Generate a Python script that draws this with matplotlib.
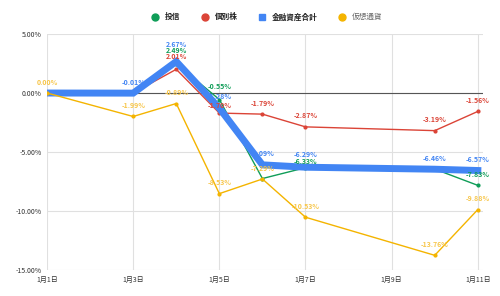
import numpy as np
import matplotlib.pyplot as plt
from matplotlib.lines import Line2D

plt.rcParams['font.family'] = ['Noto Sans CJK JP', 'DejaVu Sans']

days = [1, 3, 4, 5, 6, 7, 10, 11]
tick_days = [1, 3, 5, 7, 9, 11]
tick_labels = ["1月1日", "1月3日", "1月5日", "1月7日", "1月9日", "1月11日"]

names = ["投信", "個別株", "金融資産合計", "仮想通貨"]
toushin = [0.00, 0.00, 2.49, -0.55, -7.25, -6.33, -6.45, -7.83]
kobetsu = [0.00, 0.00, 2.01, -1.70, -1.79, -2.87, -3.19, -1.56]
total = [0.00, -0.01, 2.67, -1.28, -6.09, -6.29, -6.46, -6.57]
crypto = [0.00, -1.99, -0.89, -8.53, -7.29, -10.53, -13.76, -9.88]

# which point labels are visible (the rest are hidden by overlap in the original)
show_toushin = [0, 0, 1, 1, 0, 1, 0, 1]
show_kobetsu = [0, 0, 1, 1, 1, 1, 1, 1]
show_total = [0, 1, 1, 1, 1, 1, 1, 1]
show_crypto = [1, 1, 1, 1, 1, 1, 1, 1]

colors = ["#0f9d58", "#db4437", "#4285f4", "#f4b400"]
label_colors = ["#0f9d58", "#db4437", "#4285f4", "#f7c64a"]

# label lift above the point, in pixels; crowded spots get spread out
lift = {(2, 2): 17, (0, 2): 13.5, (1, 2): 13,
        (0, 3): 13, (2, 3): 12, (1, 3): 8,
        (2, 5): 13, (0, 5): 6}

fig = plt.figure(figsize=(5, 2.96), dpi=100)
ax = fig.add_axes([0.094, 0.088, 0.872, 0.797])

series = [toushin, kobetsu, total, crypto]
shows = [show_toushin, show_kobetsu, show_total, show_crypto]
for i, (vals, show) in enumerate(zip(series, shows)):
    if i == 2:
        ax.plot(days, vals, color=colors[i], lw=5, solid_joinstyle='miter', zorder=3)
    else:
        ax.plot(days, vals, color=colors[i], lw=1, marker='o', ms=2, zorder=2 if i != 3 else 4)
    for j, (d, v, s) in enumerate(zip(days, vals, show)):
        if s:
            dy = lift.get((i, j), 11) * 0.72
            ax.annotate(f"{v:.2f}%", (d, v), xytext=(0, dy), textcoords='offset points',
                        ha='center', va='center', fontsize=5, color=label_colors[i],
                        fontweight='bold', zorder=5)

ax.set_xlim(1, 11.12)
ax.set_ylim(-15, 5)
ax.set_yticks([5, 0, -5, -10, -15])
ax.set_yticklabels([f"{t:.2f}%" for t in [5, 0, -5, -10, -15]])
ax.set_xticks(tick_days)
ax.set_xticklabels(tick_labels)
ax.tick_params(length=0, labelsize=5, colors="#333333", pad=4)
ax.grid(True, color="#e0e0e0", lw=0.8)
ax.axhline(0, color="#555555", lw=0.8, zorder=1)
for s in ax.spines.values():
    s.set_visible(False)
ax.set_axisbelow(True)

handles = [
    Line2D([], [], ls='', marker='o', ms=5, color=colors[0]),
    Line2D([], [], ls='', marker='o', ms=5, color=colors[1]),
    Line2D([], [], ls='', marker='s', ms=4, color=colors[2]),
    Line2D([], [], ls='', marker='o', ms=5, color=colors[3]),
]
leg = fig.legend(handles, names, loc='center', bbox_to_anchor=(0.53, 0.943), ncol=4,
                 frameon=False, fontsize=5.5, handletextpad=0.3, columnspacing=2.2)
for t in leg.get_texts():
    t.set_color("#222222")
    t.set_fontweight('bold')
leg.get_texts()[3].set_color("#666666")
leg.get_texts()[3].set_fontweight('normal')

fig.savefig("out.png", dpi=100)
